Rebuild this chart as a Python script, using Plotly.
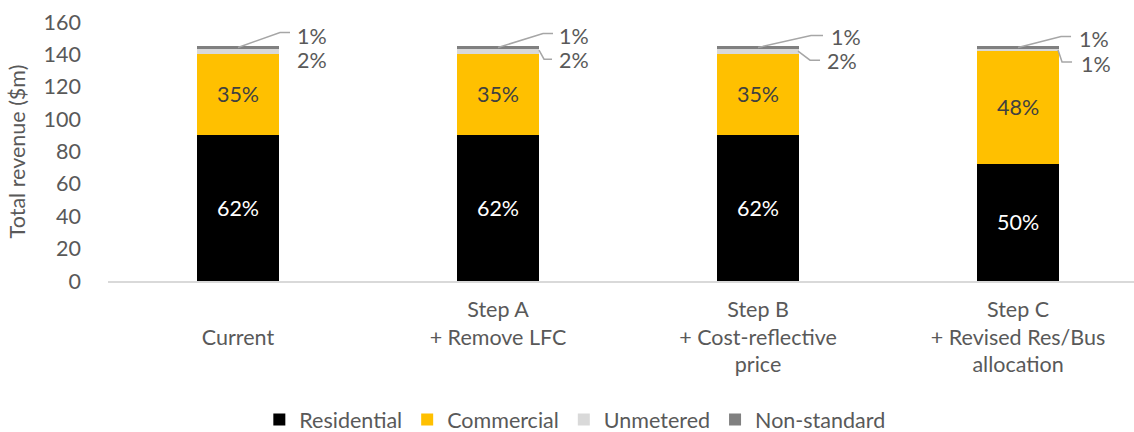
import plotly.graph_objects as go

# ---------------- data ----------------
categories = ["<br>Current", "Step A<br>+ Remove LFC",
              "Step B<br>+ Cost-reflective<br>price",
              "Step C<br>+ Revised Res/Bus<br>allocation"]
residential = [90, 90, 90, 72.5]
commercial = [50.5, 50.5, 50.5, 69.5]
unmetered = [3, 3, 3, 1.5]
non_standard = [1.5, 1.5, 1.5, 1.5]
series_names = ["Residential", "Commercial", "Unmetered", "Non-standard"]
y_ticks = [0, 20, 40, 60, 80, 100, 120, 140, 160]

# ---------------- styles ----------------
FONT = "Lato"
FS = 21.5
TXT = "#595959"
colors = ["#000000", "#FFC000", "#D9D9D9", "#808080"]
LEADER = "#A6A6A6"
# leader path points (pixels relative to segment midpoint) and text offsets
ns_paths = [[(0, 0), (42, 15), (52, 15)], [(0, 0), (45, 14), (55, 14)],
            [(0, 0), (53, 12), (65, 12)], [(0, 0), (43, 11), (53, 11)]]
ns_text = [(58, 12), (60, 12), (72, 11), (60, 9)]
um_paths = [None, [(41, 1), (46, -8), (54, -8)],
            [(40, 0), (52, -9), (62, -9)], [(40, 0), (44, -12), (54, -12)]]
um_text = [(58, -9), (60, -9), (68, -10), (62, -14)]

series = [residential, commercial, unmetered, non_standard]
totals = [sum(v) for v in zip(*series)]
pcts = [[f"{round(100 * v / t)}%" for v, t in zip(s, totals)] for s in series]

fig = go.Figure()
text_colors = ["#FFFFFF", "#404040", TXT, TXT]
for k, (name, vals) in enumerate(zip(series_names, series)):
    inside = k < 2
    fig.add_trace(go.Bar(
        name=name, x=categories, y=vals,
        marker=dict(color=colors[k], line=dict(width=0)),
        text=pcts[k] if inside else None,
        textposition="inside" if inside else "none",
        insidetextanchor="middle", textangle=0,
        insidetextfont=dict(family=FONT, size=FS, color=text_colors[k]),
        constraintext="none",
        width=0.315,
    ))

shapes = []
annotations = []
for i, cat in enumerate(categories):
    base_um = residential[i] + commercial[i]
    um_mid = base_um + unmetered[i] / 2
    ns_mid = base_um + unmetered[i] + non_standard[i] / 2
    for mid, pts, toff, lab in [(ns_mid, ns_paths[i], ns_text[i], pcts[3][i]),
                                (um_mid, um_paths[i], um_text[i], pcts[2][i])]:
        if pts:
            path = "M " + " L ".join(f"{x},{y}" for x, y in pts)
            shapes.append(dict(type="path", path=path, xref="x", yref="y",
                               xsizemode="pixel", ysizemode="pixel",
                               xanchor=cat, yanchor=mid,
                               line=dict(color=LEADER, width=1.5)))
        annotations.append(dict(x=cat, y=mid, xref="x", yref="y",
                                text=lab, showarrow=False, xanchor="left",
                                yanchor="middle", xshift=toff[0], yshift=toff[1],
                                borderpad=0,
                                font=dict(family=FONT, size=FS, color=TXT)))

fig.update_layout(
    barmode="stack",
    width=1134, height=432,
    margin=dict(l=108, r=0, t=22, b=151, autoexpand=False),
    paper_bgcolor="white", plot_bgcolor="white",
    font=dict(family=FONT, size=FS, color=TXT),
    shapes=shapes, annotations=annotations,
    legend=dict(orientation="h", x=0.455, xanchor="center", y=-0.535,
                yanchor="middle", font=dict(family=FONT, size=FS, color=TXT),
                traceorder="normal", itemwidth=30),
    xaxis=dict(type="category", range=[-0.5, 3.446], showline=True,
               linecolor="#D9D9D9", linewidth=1.5, showgrid=False, ticks="",
               automargin=False, ticklabelstandoff=8,
               tickfont=dict(family=FONT, size=FS, color=TXT)),
    yaxis=dict(range=[0, 160], tickvals=y_ticks, showgrid=False, zeroline=False,
               showline=False, ticks="", ticklabelstandoff=26, automargin=False,
               tickfont=dict(family=FONT, size=FS, color=TXT),
               title=dict(text="Total revenue ($m)", standoff=12,
                          font=dict(family=FONT, size=FS, color=TXT))),
)

fig.write_html("out.html")
